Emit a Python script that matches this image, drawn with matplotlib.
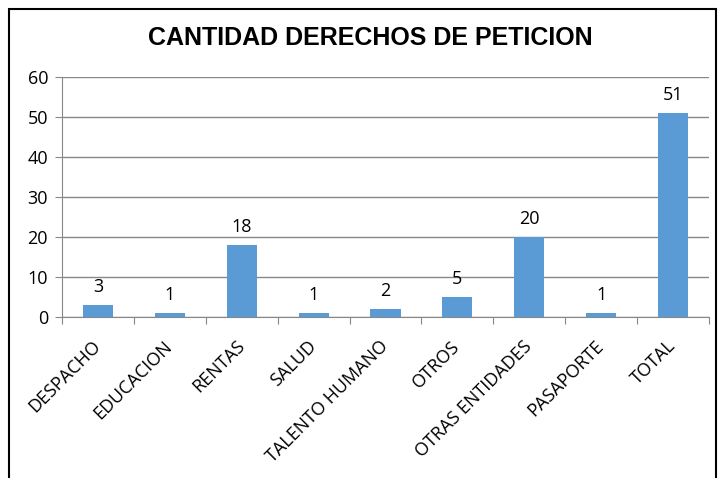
import matplotlib.pyplot as plt
from matplotlib.patches import Rectangle

categorias = ["DESPACHO", "EDUCACION", "RENTAS", "SALUD", "TALENTO HUMANO",
              "OTROS", "OTRAS ENTIDADES", "PASAPORTE", "TOTAL"]
cantidades = [3, 1, 18, 1, 2, 5, 20, 1, 51]

fig = plt.figure(figsize=(7.21, 4.78), dpi=100)
ax = fig.add_axes([62/721, 1 - 317/478, (709-62)/721, (317-77)/478])

x = list(range(len(categorias)))
ax.bar(x, cantidades, width=0.42, color="#5B9BD5", zorder=3)
for xi, v in zip(x, cantidades):
    ax.text(xi, v + 2.2, str(v), ha="center", va="bottom", fontsize=13,
            family="Open Sans", color="#000000")

ax.set_xlim(-0.5, len(categorias) - 0.5)
ax.set_ylim(0, 60)
ax.set_yticks(range(0, 61, 10))
ax.tick_params(axis="y", labelsize=13, length=5, color="#888888", pad=5)
for t in ax.get_yticklabels():
    t.set_family("Open Sans")
ax.grid(axis="y", color="#888888", linewidth=1, zorder=0)

ax.set_xticks([i + 0.5 for i in x[:-1]] + [-0.5, len(categorias) - 0.5], minor=False)
ax.set_xticklabels([])
ax.tick_params(axis="x", length=5, color="#888888")
ax.set_xticks(x, minor=True)
ax.set_xticklabels(categorias, minor=True, rotation=45, ha="right", va="center",
                   rotation_mode="anchor", fontsize=13, family="Open Sans")
ax.tick_params(axis="x", which="minor", length=0, pad=19)

for s in ["top", "right"]:
    ax.spines[s].set_visible(False)
ax.spines["left"].set_color("#888888")
ax.spines["bottom"].set_color("#888888")

fig.text(370/721, 1 - 38/478, "CANTIDAD DERECHOS DE PETICION", ha="center", va="center",
         fontsize=18, fontweight="bold", family="Liberation Sans")

# marco del grafico
fig.patches.append(Rectangle((9/721, -0.05), (716-9)/721, 1 - 9/478 + 0.05,
                             transform=fig.transFigure, fill=False,
                             edgecolor="black", linewidth=1.5))

fig.savefig("out.png", dpi=100)
